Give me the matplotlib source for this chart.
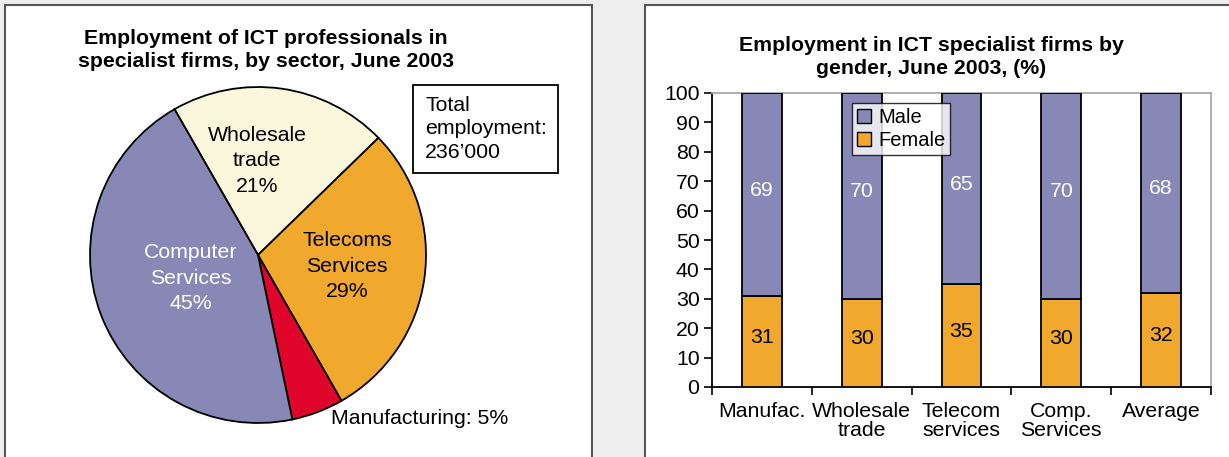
import numpy as np
import matplotlib
matplotlib.use("Agg")
import matplotlib.pyplot as plt
from matplotlib.patches import Rectangle, Patch

plt.rcParams['font.family'] = ['Liberation Sans', 'DejaVu Sans']

# Pie: employment by sector (clockwise from the top-left)
sectors = ["Wholesale\ntrade", "Telecoms\nServices", "Manufacturing", "Computer\nServices"]
shares = [21, 29, 5, 45]
sector_colors = ["#fbf7dc", "#f0a92d", "#e0062b", "#8888b6"]

# Stacked bars: employment by gender
categories = ["Manufac.", "Wholesale\ntrade", "Telecom\nservices", "Comp.\nServices", "Average"]
female = [31, 30, 35, 30, 32]
male = [69, 70, 65, 70, 68]

W, H = 1229, 457
FS = 15.3
fig = plt.figure(figsize=(W / 100, H / 100), dpi=100)
fig.patch.set_facecolor("#eeeeee")


def fx(px):
    return px / W


def fy(py):
    return 1 - py / H


# white panels
for x0, x1 in [(5, 591.5), (644.5, 1240)]:
    fig.patches.append(Rectangle((fx(x0), fy(470)), fx(x1 - x0), (470 - 4.5) / H,
                                 transform=fig.transFigure, facecolor="white",
                                 edgecolor="#555555", linewidth=1.5, zorder=-5))

# ---------------- pie ----------------
cx, cy, r = 258, 255, 168
axp = fig.add_axes([fx(cx - r), fy(cy + r), fx(2 * r), 2 * r / H])
axp.pie(shares, colors=sector_colors, startangle=119.8, counterclock=False,
        wedgeprops=dict(edgecolor="black", linewidth=1.3), radius=1)
axp.set_xlim(-1, 1)
axp.set_ylim(-1, 1)
axp.set_aspect("auto")
axp.axis("off")


def pie_text(px, py, s, color="black"):
    fig.text(fx(px), fy(py), s, ha="center", va="center", fontsize=FS,
             color=color, linespacing=1.42)


pie_text(257, 161, f"{sectors[0]}\n{shares[0]}%")
pie_text(347, 266, f"{sectors[1]}\n{shares[1]}%")
pie_text(191, 278, f"{sectors[3]}\n{shares[3]}%", color="white")
fig.text(fx(331), fy(418), f"{sectors[2]}: {shares[2]}%", ha="left", va="center", fontsize=FS)

fig.text(fx(266), fy(50), "Employment of ICT professionals in\nspecialist firms, by sector, June 2003",
         ha="center", va="center", fontsize=FS, fontweight="bold", linespacing=1.27)

fig.patches.append(Rectangle((fx(413), fy(173)), fx(145), 88 / H, transform=fig.transFigure,
                             facecolor="white", edgecolor="black", linewidth=1.3, zorder=3))
fig.text(fx(425), fy(129), "Total\nemployment:\n236\u2019000", ha="left", va="center",
         fontsize=FS, linespacing=1.28, zorder=4)

# ---------------- stacked bars ----------------
ax_l, ax_r, ax_t, ax_b = 712, 1211, 93, 387
axb = fig.add_axes([fx(ax_l), fy(ax_b), fx(ax_r - ax_l), (ax_b - ax_t) / H])
x = np.arange(len(categories))
bw = 0.40
axb.bar(x, female, bw, color="#f0a92d", edgecolor="black", linewidth=1.3, label="Female", zorder=3)
axb.bar(x, male, bw, bottom=female, color="#8888b6", edgecolor="black", linewidth=1.3,
        label="Male", zorder=3)

for xi, f, m in zip(x, female, male):
    axb.text(xi, f / 2 + 1.5, f"{f}", ha="center", va="center", fontsize=FS, color="black", zorder=4)
    axb.text(xi, f + m / 2 + 1.5, f"{m}", ha="center", va="center", fontsize=FS, color="white", zorder=4)

axb.set_xlim(-0.5, len(categories) - 0.5)
axb.set_ylim(0, 100)
axb.set_yticks(range(0, 101, 10))
axb.set_xticks(np.arange(-0.5, len(categories), 1.0))
axb.set_xticklabels([])
axb.set_xticks(x, minor=True)
axb.set_xticklabels(categories, minor=True, fontsize=FS, linespacing=0.95)
axb.tick_params(axis="x", which="minor", length=0, pad=11)
axb.tick_params(axis="x", which="major", length=6, width=1.2, direction="out")
axb.tick_params(axis="y", length=6, width=1.2, labelsize=FS, direction="out", pad=3)
for s in ["left", "bottom"]:
    axb.spines[s].set_linewidth(1.3)
    axb.spines[s].set_color("black")
for s in ["top", "right"]:
    axb.spines[s].set_color("#aaaaaa")
    axb.spines[s].set_linewidth(1.3)

handles = [Patch(facecolor="#8888b6", edgecolor="black", label="Male"),
           Patch(facecolor="#f0a92d", edgecolor="black", label="Female")]
leg = axb.legend(handles=handles, loc="upper left",
                 bbox_to_anchor=((852 - ax_l) / (ax_r - ax_l), 1 - (103 - ax_t) / (ax_b - ax_t)),
                 fontsize=14.5, frameon=True, fancybox=False, edgecolor="black",
                 handlelength=0.7, handleheight=0.7, handletextpad=0.35, borderpad=0.25,
                 labelspacing=0.2, borderaxespad=0)
leg.get_frame().set_linewidth(1.0)
leg.set_zorder(5)

fig.text(fx(931), fy(57), "Employment in ICT specialist firms by\ngender, June 2003, (%)",
         ha="center", va="center", fontsize=FS, fontweight="bold", linespacing=1.27)

fig.savefig("out.png", dpi=100, facecolor=fig.get_facecolor())
